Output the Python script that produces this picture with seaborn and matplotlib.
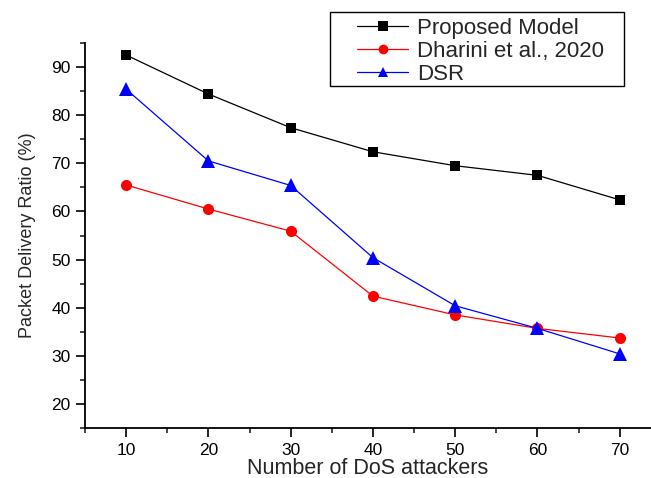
import matplotlib
matplotlib.use("Agg")
import matplotlib.pyplot as plt
import seaborn as sns
import pandas as pd
from matplotlib.ticker import MultipleLocator
from matplotlib.patches import Rectangle

attackers = [10, 20, 30, 40, 50, 60, 70]
proposed = [92.5, 84.4, 77.4, 72.4, 69.5, 67.5, 62.4]
dharini = [65.5, 60.5, 55.9, 42.4, 38.5, 35.7, 33.7]
dsr = [85.4, 70.5, 65.4, 50.4, 40.4, 35.7, 30.4]
series_names = ["Proposed Model", "Dharini et al., 2020", "DSR"]

df = pd.DataFrame({
    "x": attackers * 3,
    "y": proposed + dharini + dsr,
    "series": [series_names[0]] * 7 + [series_names[1]] * 7 + [series_names[2]] * 7,
})

sns.set_style("ticks")
plt.rcParams["font.family"] = ["Liberation Sans", "DejaVu Sans"]

fig = plt.figure(figsize=(6.51, 4.78), dpi=100)
ax = fig.add_axes([85 / 651, 50 / 478, 1 - 85 / 651, 385 / 478])

palette = {series_names[0]: "black", series_names[1]: "#ff0000", series_names[2]: "#0000ff"}
markers = {series_names[0]: "s", series_names[1]: "o", series_names[2]: "^"}
sns.lineplot(data=df, x="x", y="y", hue="series", style="series", palette=palette,
             markers=markers, dashes=False, markersize=8, linewidth=0.9,
             markeredgewidth=0, ax=ax, legend=True)

msizes = [7.3, 8.0, 10.0]
for line, ms in zip(ax.lines[:3], msizes):
    line.set_markersize(ms)

ax.set_xlim(5, 73.8)
ax.set_ylim(15, 95)
ax.xaxis.set_major_locator(MultipleLocator(10))
ax.xaxis.set_minor_locator(MultipleLocator(5))
ax.yaxis.set_minor_locator(MultipleLocator(5))
ax.set_yticks([20, 30, 40, 50, 60, 70, 80, 90])
ax.tick_params(which="major", length=6.5, width=1.2, direction="out", labelsize=12.5,
               colors="black", pad=4)
ax.tick_params(which="minor", length=3.6, width=1.2, direction="out")
for s in ["top", "right"]:
    ax.spines[s].set_visible(False)
for s in ["left", "bottom"]:
    ax.spines[s].set_linewidth(1.3)
    ax.spines[s].set_color("black")

ax.set_xlabel("Number of DoS attackers", fontsize=15.5, labelpad=0)
ax.set_ylabel("Packet Delivery Ratio (%)", fontsize=13, labelpad=11)

handles, labels = ax.get_legend_handles_labels()
for h in handles:
    h.set_markersize(7)
leg = ax.legend(handles, labels, loc="upper left", bbox_to_anchor=(357 / 651, 1 - 18 / 478),
                bbox_transform=fig.transFigure, fontsize=16, frameon=False,
                handlelength=2.3, borderpad=0, labelspacing=0.08, handletextpad=0.4,
                borderaxespad=0)

fig.patches.append(Rectangle((330 / 651, 1 - 86 / 478), 294 / 651, 74 / 478,
                             transform=fig.transFigure, fill=False, edgecolor="black",
                             linewidth=1.0, zorder=5))

fig.savefig("out.png", dpi=100)
